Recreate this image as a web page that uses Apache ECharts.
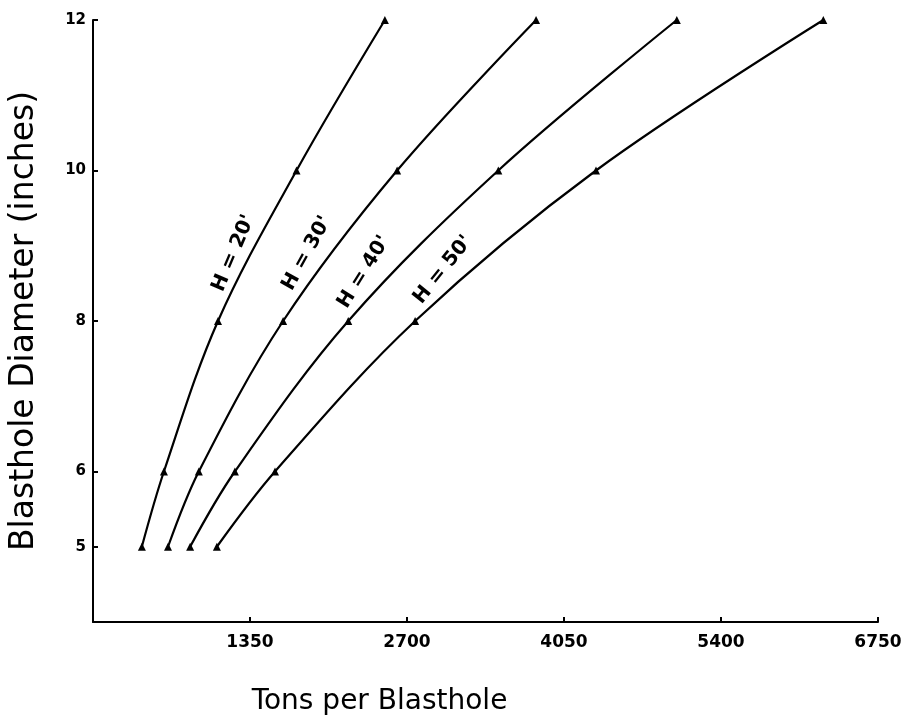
<!DOCTYPE html>
<html>
<head>
<meta charset="utf-8">
<script src="https://cdn.jsdelivr.net/npm/echarts@6/dist/echarts.min.js"></script>
<style>
  html, body { margin: 0; padding: 0; background: #ffffff; }
  #chart { width: 917px; height: 719px; }
</style>
</head>
<body>
<div id="chart"></div>
<script>
// Blasthole diameter (inches) at each plotted point
const diameters = [5, 6, 8, 10, 12];

// Tons per blasthole for each bench height H
const benchHeights = ["H = 20'", "H = 30'", "H = 40'", "H = 50'"];
const tonsH20 = [420, 610, 1075, 1750, 2510];
const tonsH30 = [645, 910, 1635, 2615, 3810];
const tonsH40 = [835, 1220, 2195, 3485, 5020];
const tonsH50 = [1065, 1565, 2770, 4325, 6280];

// Axis ticks
const xTickValues = [1350, 2700, 4050, 5400, 6750];
const yTickValues = [5, 6, 8, 10, 12];

const tonsBySeries = [tonsH20, tonsH30, tonsH40, tonsH50];

// Curve label placement along each curve: [tons, diameter, angle]
const curveLabelLayout = [
  [1210, 8.90, 67],
  [1840, 8.90, 61],
  [2330, 8.65, 58],
  [3010, 8.68, 51]
];

const ink = '#000000';
const fontFamily = 'DejaVu Sans, Liberation Sans, sans-serif';

const lineSeries = benchHeights.map((name, i) => ({
  name: name,
  type: 'line',
  data: tonsBySeries[i].map((t, j) => [t, diameters[j]]),
  smooth: 0.35,
  symbol: 'triangle',
  symbolSize: 8,
  showAllSymbol: true,
  lineStyle: { color: ink, width: 2.2 },
  itemStyle: { color: ink },
  emphasis: { disabled: true },
  silent: true,
  z: 3
}));

const labelSeries = {
  type: 'scatter',
  silent: true,
  symbolSize: 0,
  itemStyle: { opacity: 1, color: ink },
  data: benchHeights.map((name, i) => ({
    name: name,
    value: [curveLabelLayout[i][0], curveLabelLayout[i][1]],
    label: { rotate: curveLabelLayout[i][2] }
  })),
  label: {
    show: true,
    position: 'inside',
    formatter: p => p.name,
    color: ink,
    opacity: 1,
    fontSize: 20,
    fontFamily: fontFamily,
    fontWeight: 'bold'
  },
  emphasis: { disabled: true },
  z: 4
};

const chart = echarts.init(document.getElementById('chart'), null, { renderer: 'canvas' });
chart.setOption({
  animation: false,
  backgroundColor: '#ffffff',
  grid: { left: 93, right: 39, top: 20, bottom: 97, containLabel: false, outerBoundsMode: 'none' },
  xAxis: {
    type: 'value',
    min: 0,
    max: 6750,
    interval: 1350,
    name: 'Tons per Blasthole',
    nameLocation: 'middle',
    nameGap: 66,
    nameTextStyle: {
      color: ink, fontSize: 28, fontFamily: fontFamily,
      padding: [0, 212, 0, 0]
    },
    axisLine: { show: true, onZero: false, lineStyle: { color: ink, width: 2 } },
    axisTick: { show: true, inside: true, length: 5, customValues: xTickValues, lineStyle: { color: ink, width: 2 } },
    axisLabel: {
      customValues: xTickValues,
      formatter: v => String(v),
      margin: 12,
      color: ink,
      fontSize: 17,
      fontFamily: fontFamily,
      fontWeight: 'bold'
    },
    splitLine: { show: false }
  },
  yAxis: {
    type: 'value',
    min: 4,
    max: 12,
    interval: 1,
    name: 'Blasthole Diameter (inches)',
    nameLocation: 'middle',
    nameGap: 52,
    nameRotate: 90,
    nameTextStyle: { color: ink, fontSize: 33, fontFamily: fontFamily },
    axisLine: { show: true, onZero: false, lineStyle: { color: ink, width: 2 } },
    axisTick: { show: true, inside: true, length: 5, customValues: yTickValues, lineStyle: { color: ink, width: 2 } },
    axisLabel: {
      customValues: yTickValues,
      formatter: v => String(v),
      margin: 7,
      color: ink,
      fontSize: 15,
      fontFamily: fontFamily,
      fontWeight: 'bold'
    },
    splitLine: { show: false }
  },
  series: lineSeries.concat([labelSeries])
});
</script>
</body>
</html>
